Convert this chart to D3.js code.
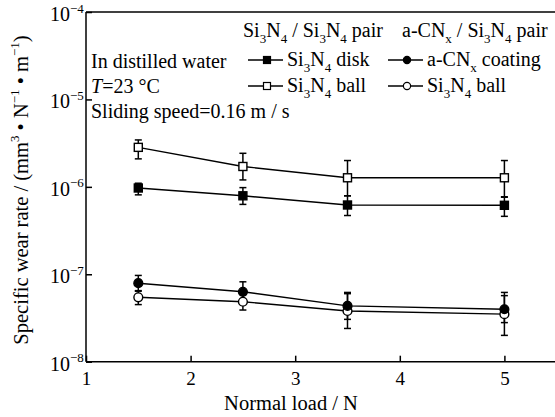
<!DOCTYPE html>
<html>
<head>
<meta charset="utf-8">
<script src="https://cdn.jsdelivr.net/npm/d3@7/dist/d3.min.js"></script>
<style>
  html, body { margin: 0; padding: 0; background: #fff; }
  svg { display: block; }
  svg text { font-family: "Liberation Serif", "Times New Roman", serif; fill: #000; }
</style>
</head>
<body>
<svg id="chart" width="555" height="417"></svg>
<script>
// Normal loads (N) at which each pair was tested
const loads = [1.5, 2.5, 3.5, 5];

// Si3N4 / Si3N4 pair
const si3n4Disk      = [9.7e-7, 7.9e-7, 6.2e-7, 6.15e-7];
const si3n4DiskLow   = [8.1e-7, 6.3e-7, 4.7e-7, 4.6e-7];
const si3n4DiskHigh  = [1.10e-6, 9.8e-7, 7.9e-7, 7.6e-7];
const si3n4Ball      = [2.83e-6, 1.71e-6, 1.27e-6, 1.27e-6];
const si3n4BallLow   = [2.09e-6, 1.2e-6, 7.9e-7, 7.7e-7];
const si3n4BallHigh  = [3.44e-6, 2.42e-6, 2.0e-6, 2.0e-6];

// a-CNx / Si3N4 pair
const acnxCoating     = [7.9e-8, 6.3e-8, 4.35e-8, 3.98e-8];
const acnxCoatingLow  = [6.4e-8, 4.9e-8, 3.05e-8, 2.8e-8];
const acnxCoatingHigh = [9.7e-8, 8.2e-8, 6.2e-8, 5.7e-8];
const acnxBall        = [5.45e-8, 4.85e-8, 3.8e-8, 3.5e-8];
const acnxBallLow     = [4.5e-8, 3.9e-8, 2.4e-8, 2.0e-8];
const acnxBallHigh    = [6.5e-8, 5.9e-8, 6.0e-8, 6.2e-8];

// Axis ticks
const xTicks = [1, 2, 3, 4, 5];
const yTickExponents = [-8, -7, -6, -5, -4];

const svg = d3.select("#chart");
const plotLeft = 86, plotTop = 12, plotBottom = 361.7;

const x = d3.scaleLinear().domain([1, 5.5]).range([plotLeft, plotLeft + 4.5 * 104.6]);
const y = d3.scaleLog().domain([1e-8, 1e-4]).range([plotBottom, plotTop]);

// Rich text helper: parts = [text, {sub:"3"}, {sup:"-1"}, {it:"T"}, ...]
function rich(sel, parts, size) {
  const small = Math.round(size * 0.64);
  let shift = 0;
  parts.forEach(p => {
    if (typeof p === "string") {
      sel.append("tspan").attr("font-size", size).attr("dy", -shift).text(p);
      shift = 0;
    } else if (p.sub !== undefined) {
      const d = size * 0.28;
      sel.append("tspan").attr("font-size", small).attr("dy", d - shift).text(p.sub);
      shift = d;
    } else if (p.sup !== undefined) {
      const d = -size * 0.42;
      sel.append("tspan").attr("font-size", small).attr("dy", d - shift).text(p.sup);
      shift = d;
    } else if (p.it !== undefined) {
      sel.append("tspan").attr("font-size", size).attr("font-style", "italic").attr("dy", -shift).text(p.it);
      shift = 0;
    }
  });
}

// Frame: left, bottom and top lines
const axisStroke = 1.5;
svg.append("line").attr("x1", plotLeft).attr("x2", 555).attr("y1", plotTop).attr("y2", plotTop)
  .attr("stroke", "#000").attr("stroke-width", axisStroke);
svg.append("line").attr("x1", plotLeft).attr("x2", 555).attr("y1", plotBottom).attr("y2", plotBottom)
  .attr("stroke", "#000").attr("stroke-width", axisStroke);
svg.append("line").attr("x1", plotLeft).attr("x2", plotLeft).attr("y1", plotTop).attr("y2", plotBottom)
  .attr("stroke", "#000").attr("stroke-width", axisStroke);

// X axis ticks (pointing inward) and labels
const xAxis = d3.axisBottom(x).tickValues(xTicks).tickSizeInner(-6).tickSizeOuter(0).tickPadding(10)
  .tickFormat(d3.format("d"));
const gx = svg.append("g").attr("transform", `translate(0,${plotBottom})`).call(xAxis);
gx.select(".domain").remove();
gx.selectAll(".tick line").attr("stroke-width", 1.5);
gx.selectAll(".tick text").attr("font-size", 19).attr("font-family", "Liberation Serif").attr("fill", "#000");

// Y axis ticks (pointing inward) and power-of-ten labels
const yAxis = d3.axisLeft(y).tickValues(yTickExponents.map(e => Math.pow(10, e)))
  .tickSizeInner(-6).tickSizeOuter(0).tickFormat("");
const gy = svg.append("g").attr("transform", `translate(${plotLeft},0)`).call(yAxis);
gy.select(".domain").remove();
gy.selectAll(".tick line").attr("stroke-width", 1.5);
yTickExponents.forEach(e => {
  const t = svg.append("text").attr("x", 50).attr("y", y(Math.pow(10, e)) + 9);
  rich(t, ["10", {sup: "\u2212" + Math.abs(e)}], 20);
});

// Axis titles
svg.append("text").attr("x", 291).attr("y", 410).attr("text-anchor", "middle")
  .attr("font-size", 20.5).text("Normal load / N");
const yt = svg.append("text").attr("transform", `translate(28,190) rotate(-90)`)
  .attr("text-anchor", "middle");
rich(yt, ["Specific wear rate / (mm", {sup: "3"}, " \u2022 N", {sup: "\u22121"}, " \u2022 m", {sup: "\u22121"}, ")"], 20.5);

// Series definitions
const series = [
  {vals: si3n4Ball, lo: si3n4BallLow, hi: si3n4BallHigh, shape: "square", fill: "#fff"},
  {vals: si3n4Disk, lo: si3n4DiskLow, hi: si3n4DiskHigh, shape: "square", fill: "#000"},
  {vals: acnxBall, lo: acnxBallLow, hi: acnxBallHigh, shape: "circle", fill: "#fff"},
  {vals: acnxCoating, lo: acnxCoatingLow, hi: acnxCoatingHigh, shape: "circle", fill: "#000"}
];

const line = d3.line().x(d => x(d[0])).y(d => y(d[1]));
const capW = 3.5;

function marker(g, cx, cy, shape, fill) {
  if (shape === "square") {
    g.append("rect").attr("x", cx - 4).attr("y", cy - 4).attr("width", 8).attr("height", 8)
      .attr("fill", fill).attr("stroke", "#000").attr("stroke-width", 1.4);
  } else {
    g.append("circle").attr("cx", cx).attr("cy", cy).attr("r", 4.4)
      .attr("fill", fill).attr("stroke", "#000").attr("stroke-width", 1.4);
  }
}

// Error bars first, then lines, then markers on top
series.forEach(s => {
  const g = svg.append("g").attr("stroke", "#000").attr("stroke-width", 1.5);
  loads.forEach((l, i) => {
    const cx = x(l);
    g.append("line").attr("x1", cx).attr("x2", cx).attr("y1", y(s.lo[i])).attr("y2", y(s.hi[i]));
    g.append("line").attr("x1", cx - capW).attr("x2", cx + capW).attr("y1", y(s.lo[i])).attr("y2", y(s.lo[i]));
    g.append("line").attr("x1", cx - capW).attr("x2", cx + capW).attr("y1", y(s.hi[i])).attr("y2", y(s.hi[i]));
  });
});
series.forEach(s => {
  svg.append("path").datum(loads.map((l, i) => [l, s.vals[i]])).attr("d", line)
    .attr("fill", "none").attr("stroke", "#000").attr("stroke-width", 1.4);
});
series.forEach(s => {
  const g = svg.append("g");
  loads.forEach((l, i) => marker(g, x(l), y(s.vals[i]), s.shape, s.fill));
});

// Test conditions
const fs = 20;
svg.append("text").attr("x", 91).attr("y", 68).attr("font-size", fs).text("In distilled water");
const tt = svg.append("text").attr("x", 91).attr("y", 93);
rich(tt, [{it: "T"}, "=23 \u00B0C"], fs);
svg.append("text").attr("x", 91).attr("y", 118).attr("font-size", fs).text("Sliding speed=0.16 m / s");

// Legend
const h1 = svg.append("text").attr("x", 243).attr("y", 37);
rich(h1, ["Si", {sub: "3"}, "N", {sub: "4"}, " / Si", {sub: "3"}, "N", {sub: "4"}, " pair"], fs);
const h2 = svg.append("text").attr("x", 402).attr("y", 37);
rich(h2, ["a-CN", {sub: "x"}, " / Si", {sub: "3"}, "N", {sub: "4"}, " pair"], fs);

const legendItems = [
  {lx: 248, ty: 66, shape: "square", fill: "#000", parts: ["Si", {sub: "3"}, "N", {sub: "4"}, " disk"]},
  {lx: 248, ty: 92, shape: "square", fill: "#fff", parts: ["Si", {sub: "3"}, "N", {sub: "4"}, " ball"]},
  {lx: 388, ty: 66, shape: "circle", fill: "#000", parts: ["a-CN", {sub: "x"}, " coating"]},
  {lx: 388, ty: 92, shape: "circle", fill: "#fff", parts: ["Si", {sub: "3"}, "N", {sub: "4"}, " ball"]}
];
legendItems.forEach(it => {
  const ly = it.ty - 6;
  svg.append("line").attr("x1", it.lx).attr("x2", it.lx + 35).attr("y1", ly).attr("y2", ly)
    .attr("stroke", "#000").attr("stroke-width", 1.4);
  const g = svg.append("g");
  const mx = it.lx + 19;
  if (it.shape === "square") {
    g.append("rect").attr("x", mx - 3.5).attr("y", ly - 3.5).attr("width", 7).attr("height", 7)
      .attr("fill", it.fill).attr("stroke", "#000").attr("stroke-width", 1.2);
  } else {
    g.append("circle").attr("cx", mx).attr("cy", ly).attr("r", 3.6)
      .attr("fill", it.fill).attr("stroke", "#000").attr("stroke-width", 1.2);
  }
  const t = svg.append("text").attr("x", it.lx + 39).attr("y", it.ty);
  rich(t, it.parts, fs);
});
</script>
</body>
</html>
